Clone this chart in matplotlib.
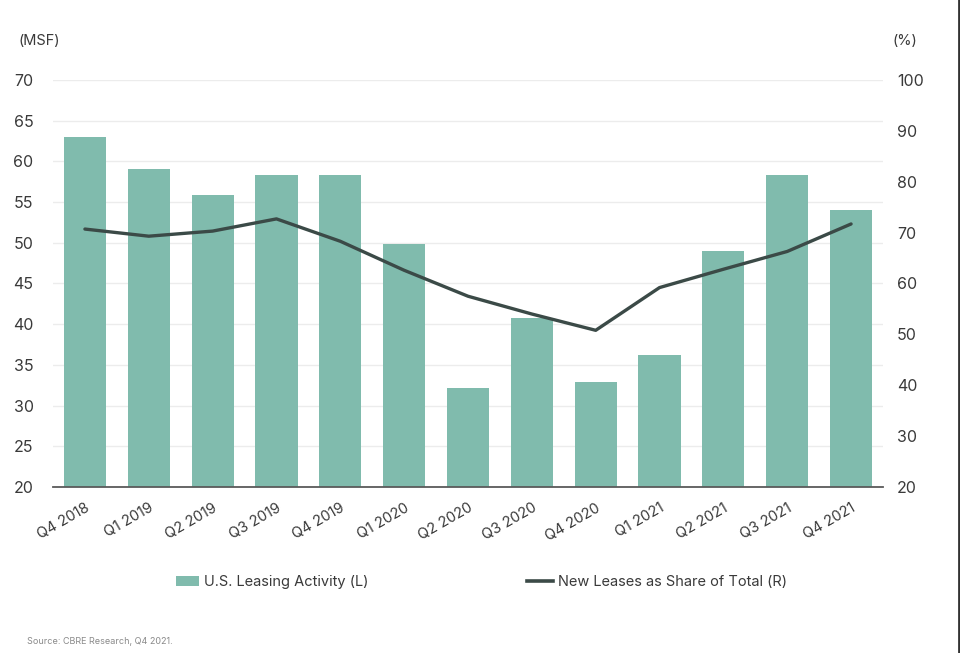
import matplotlib.pyplot as plt
from matplotlib.lines import Line2D
from matplotlib.patches import Patch
import numpy as np

plt.rcParams['font.family'] = ['Inter', 'DejaVu Sans']

quarters = ["Q4 2018", "Q1 2019", "Q2 2019", "Q3 2019", "Q4 2019", "Q1 2020", "Q2 2020",
            "Q3 2020", "Q4 2020", "Q1 2021", "Q2 2021", "Q3 2021", "Q4 2021"]
leasing_msf = [63.0, 59.1, 55.9, 58.3, 58.3, 49.9, 32.2, 40.8, 32.9, 36.2, 49.0, 58.3, 54.0]
new_share_pct = [70.7, 69.3, 70.3, 72.7, 68.3, 62.6, 57.5, 54.0, 50.8, 59.2, 62.8, 66.3, 71.7]

bar_color = "#80bbad"
line_color = "#3b4a47"
text_color = "#3a3a3a"

fig = plt.figure(figsize=(9.6, 6.53), dpi=100)
ax = fig.add_axes([0.0552, 0.2542, 0.8646, 0.6233])
ax2 = ax.twinx()

x = np.arange(len(quarters))
ax.bar(x, leasing_msf, width=0.66, color=bar_color, zorder=2)
ax2.plot(x, new_share_pct, color=line_color, linewidth=2.4, solid_capstyle="round", zorder=3)

ax.set_xlim(-0.5, len(quarters) - 0.5)
ax.set_ylim(20, 70)
ax.set_yticks(range(20, 71, 5))
ax2.set_ylim(20, 100)
ax2.set_yticks(range(20, 101, 10))

ax.grid(axis="y", color="#ececec", linewidth=1, zorder=0)
ax.set_axisbelow(True)
for a in (ax, ax2):
    for s in a.spines.values():
        s.set_visible(False)
ax.spines["bottom"].set_visible(True)
ax.spines["bottom"].set_color("#5a5a5a")
ax.spines["bottom"].set_linewidth(1.3)
ax.spines["bottom"].set_zorder(4)

ax.set_xticks(x)
ax.set_xticklabels(quarters, rotation=30, ha="right", rotation_mode="anchor",
                   fontsize=10.5, color=text_color)
ax.tick_params(axis="x", length=0, pad=10)
ax.tick_params(axis="y", length=0, labelsize=11.5, labelcolor=text_color, pad=14)
ax2.tick_params(axis="y", length=0, labelsize=11.5, labelcolor=text_color, pad=10)

fig.text(18 / 960, 1 - 41 / 653, "(MSF)", fontsize=10.5, color=text_color, va="center")
fig.text(892 / 960, 1 - 41 / 653, "(%)", fontsize=10.5, color=text_color, va="center")

legend_y = 1 - 582 / 653
leg1 = fig.legend([Patch(facecolor=bar_color, edgecolor="none")], ["U.S. Leasing Activity (L)"],
                  loc="center left", bbox_to_anchor=(176 / 960, legend_y), frameon=False,
                  fontsize=10.5, handlelength=1.6, handletextpad=0.3,
                  borderpad=0, borderaxespad=0)
leg2 = fig.legend([Line2D([0], [0], color=line_color, linewidth=2.6)],
                  ["New Leases as Share of Total (R)"],
                  loc="center left", bbox_to_anchor=(527 / 960, legend_y), frameon=False,
                  fontsize=10.5, handlelength=1.8, handletextpad=0.3,
                  borderpad=0, borderaxespad=0)
for leg in (leg1, leg2):
    for t in leg.get_texts():
        t.set_color(text_color)

fig.text(27 / 960, 1 - 641 / 653, "Source: CBRE Research, Q4 2021.", fontsize=6.5,
         color="#8a8a8a", va="center")

fig.add_artist(Line2D([958.5 / 960, 958.5 / 960], [0, 1], color="#333333", linewidth=2))

fig.savefig("out.png", dpi=100)
